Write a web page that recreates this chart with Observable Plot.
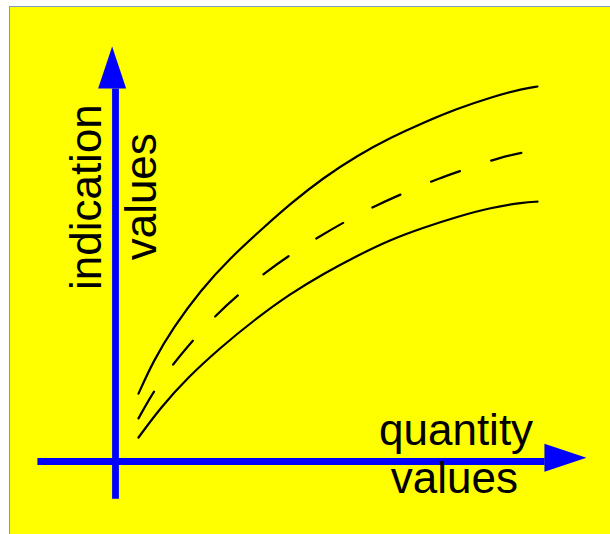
<!DOCTYPE html>
<html>
<head>
<meta charset="utf-8">
<script src="https://cdn.jsdelivr.net/npm/d3@7"></script>
<script src="https://cdn.jsdelivr.net/npm/@observablehq/plot@0.6"></script>
<style>
  html, body { margin: 0; padding: 0; background: #ffffff; }
  #wrap { position: relative; width: 610px; height: 534px; overflow: hidden; }
  #panel { position: absolute; left: 9px; top: 6px; width: 620px; height: 540px; background: #ffff00;
           border-left: 1px solid #7b98cf; border-top: 1px solid #7b98cf; box-sizing: border-box; }
  #chart { position: absolute; left: 0; top: 0; }
</style>
</head>
<body>
<div id="wrap"><div id="panel"></div><div id="chart"></div></div>
<script>
// ---- data (abstract units: quantity 0..100, indication 0..100) ----
const upperX  = [5.45, 9.0, 13.7, 20.1, 27.3, 35.1, 41.5, 49.3, 57.3, 65.2, 73.0, 81.0, 88.9, 96.7, 100];
const upperY  = [18.1, 26.9, 35.7, 45.6, 54.4, 62.4, 68.8, 75.7, 81.6, 86.4, 90.4, 94.1, 97.1, 99.5, 100];
const middleX = [5.45, 9.0, 13.7, 18.5, 23.9, 29.4, 35.8, 41.9, 48.3, 55.2, 62.1, 69.2, 76.5, 83.4, 91.0, 98.8];
const middleY = [11.5, 18.7, 26.1, 32.5, 39.2, 44.8, 50.7, 55.5, 60.0, 64.5, 68.5, 72.0, 75.5, 78.1, 81.1, 82.9];
const lowerX  = [5.45, 10.7, 17.1, 24.9, 32.7, 41.5, 49.3, 57.3, 65.2, 73.0, 81.0, 88.9, 96.7, 100];
const lowerY  = [6.4, 14.4, 22.4, 30.4, 37.6, 44.8, 50.1, 54.9, 59.2, 62.4, 65.3, 67.7, 69.1, 69.3];

// axis arrows: shaft start, shaft end (head base), head tip
const xArrow = {from: -18.5, to: 101.7, tip: 111.6, tipOffset: 1.0};
const yArrow = {from: -9.9, to: 99.5, tip: 110.7, tipOffset: -0.8};

// axis titles
const yTitleLines = ["indication", "values"];
const xTitleLines = ["quantity", "values"];

// ---- build tables ----
const zip = (xs, ys) => xs.map((x, i) => ({x, y: ys[i]}));
const upper = zip(upperX, upperY);
const middle = zip(middleX, middleY);
const lower = zip(lowerX, lowerY);

const shafts = [
  {x1: xArrow.from, y1: 0, x2: xArrow.to, y2: 0},
  {x1: 0, y1: yArrow.from, x2: 0, y2: yArrow.to}
];

const HEAD_LEN = 42, HEAD_HALF = 14;
const upHead = {draw(ctx) { ctx.moveTo(0, 0); ctx.lineTo(HEAD_HALF, HEAD_LEN); ctx.lineTo(-HEAD_HALF, HEAD_LEN); ctx.closePath(); }};
const rightHead = {draw(ctx) { ctx.moveTo(0, 0); ctx.lineTo(-HEAD_LEN, -HEAD_HALF); ctx.lineTo(-HEAD_LEN, HEAD_HALF); ctx.closePath(); }};

const yTitles = [
  {x: -3.55, y: 70.5, text: yTitleLines[0]},
  {x: 9.5, y: 70.6, text: yTitleLines[1]}
];
const xTitles = [
  {x: 80.7, y: 4.3, text: xTitleLines[0]},
  {x: 80.3, y: -8.5, text: xTitleLines[1]}
];

const FONT = "Liberation Sans, Arial, Helvetica, sans-serif";
const BLUE = "#0000ff";

const chart = Plot.plot({
  width: 610,
  height: 534,
  marginTop: 0, marginRight: 0, marginBottom: 0, marginLeft: 0,
  style: {background: "transparent", overflow: "visible"},
  x: {domain: [0, 100], range: [115, 537], axis: null},
  y: {domain: [0, 100], range: [461, 86], axis: null},
  marks: [
    Plot.link(shafts, {x1: "x1", y1: "y1", x2: "x2", y2: "y2", stroke: BLUE, strokeWidth: 6.8, strokeLinecap: "butt"}),
    Plot.dot([{x: xArrow.tip, y: xArrow.tipOffset}], {x: "x", y: "y", symbol: rightHead, fill: BLUE, stroke: "none"}),
    Plot.dot([{x: yArrow.tipOffset, y: yArrow.tip}], {x: "x", y: "y", symbol: upHead, fill: BLUE, stroke: "none"}),
    Plot.line(upper, {x: "x", y: "y", curve: "basis", stroke: "black", strokeWidth: 2.2}),
    Plot.line(middle, {x: "x", y: "y", curve: "basis", stroke: "black", strokeWidth: 2.2, strokeDasharray: "31,33"}),
    Plot.line(lower, {x: "x", y: "y", curve: "basis", stroke: "black", strokeWidth: 2.2}),
    Plot.text(yTitles, {x: "x", y: "y", text: "text", rotate: -90, fontSize: 44, fontFamily: FONT,
      fill: "black", textAnchor: "middle", lineAnchor: "bottom"}),
    Plot.text(xTitles, {x: "x", y: "y", text: "text", fontSize: 44, fontFamily: FONT,
      fill: "black", textAnchor: "middle", lineAnchor: "bottom"})
  ]
});
document.getElementById("chart").appendChild(chart);
</script>
</body>
</html>
